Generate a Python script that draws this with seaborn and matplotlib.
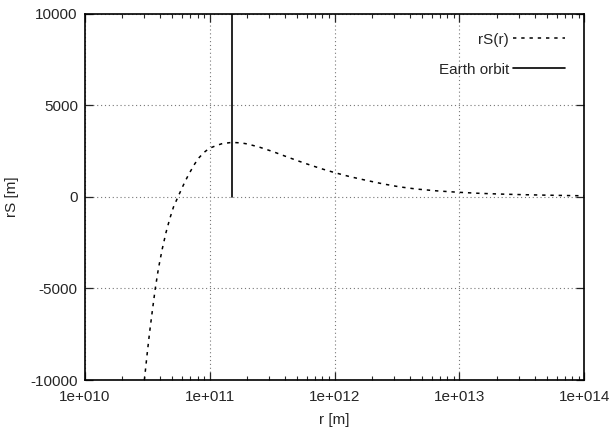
import numpy as np
import seaborn as sns
import matplotlib
matplotlib.use('Agg')
import matplotlib.pyplot as plt
from matplotlib.ticker import FixedLocator, LogLocator, FuncFormatter, NullFormatter


# values
r_values = [3.00e10, 3.16e10, 3.31e10, 3.47e10, 3.66e10, 3.89e10, 4.17e10,
            4.47e10, 4.79e10, 5.13e10, 5.58e10, 6.12e10, 6.46e10, 6.84e10,
            7.24e10, 7.60e10, 8.24e10, 8.97e10, 9.91e10, 1.135e11, 1.26e11,
            1.50e11, 1.78e11, 2.01e11, 2.52e11, 3.22e11, 4.00e11, 5.06e11,
            6.47e11, 8.11e11, 1.01e12, 1.32e12, 1.78e12, 2.45e12, 3.31e12,
            4.54e12, 6.61e12, 9.77e12, 1.41e13, 2.09e13, 3.16e13, 4.68e13,
            7.08e13, 1.0e14]
rS_values = [-10000, -8550, -7350, -6250, -5050, -3900, -2850,
             -1950, -1200, -560, 0, 600, 930, 1260,
             1550, 1800, 2140, 2410, 2640, 2800, 2900,
             2965, 2940, 2880, 2700, 2460, 2220, 1965,
             1715, 1500, 1310, 1100, 900, 700, 540,
             420, 320, 245, 190, 148, 115, 90,
             68, 52]

earth_r = [1.496e11, 1.496e11]
earth_rS = [0, 10000]

x_ticks = [1e10, 1e11, 1e12, 1e13, 1e14]
y_ticks = [-10000, -5000, 0, 5000, 10000]

sns.set_style('ticks')
plt.rcParams['font.family'] = ['Liberation Sans', 'DejaVu Sans']
plt.rcParams['font.size'] = 11
plt.rcParams['axes.unicode_minus'] = False

fig = plt.figure(figsize=(6.1, 4.33), dpi=100)
ax = fig.add_axes([0.139, 0.1224, 0.819, 0.8464])
ax.set_xscale('log')

sns.lineplot(x=r_values, y=rS_values, ax=ax, color='black', lw=1.1,
             linestyle=(0, (2.2, 3.2)), sort=False, estimator=None, label='rS(r)')
sns.lineplot(x=earth_r, y=earth_rS, ax=ax, color='black', lw=1.2,
             sort=False, estimator=None, label='Earth orbit')

ax.set_xlim(1e10, 1e14)
ax.set_ylim(-10000, 10000)
ax.xaxis.set_major_locator(FixedLocator(x_ticks))
ax.xaxis.set_minor_locator(LogLocator(base=10, subs=np.arange(2, 10)))
ax.xaxis.set_minor_formatter(NullFormatter())
ax.xaxis.set_major_formatter(FuncFormatter(lambda v, p: '1e+%03d' % int(round(np.log10(v)))))
ax.yaxis.set_major_locator(FixedLocator(y_ticks))

ax.tick_params(which='major', direction='in', top=True, right=True, length=6, width=0.9, labelsize=11)
ax.tick_params(axis='x', which='major', pad=7)
ax.tick_params(axis='y', which='major', pad=5)
ax.tick_params(which='minor', direction='in', top=True, right=True, length=3, width=0.8)
ax.grid(True, which='major', color='#777777', linestyle=(0, (1, 2.5)), linewidth=0.8)
for s in ax.spines.values():
    s.set_linewidth(1.2)
    s.set_color('black')

ax.set_xlabel('r [m]', fontsize=11, labelpad=7)
ax.set_ylabel('rS [m]', fontsize=11, labelpad=8)

leg = ax.legend(loc='upper right', frameon=False, markerfirst=False, handlelength=3.4,
                fontsize=11, borderaxespad=0.85, labelspacing=1.05, handletextpad=0.3)

fig.savefig('out.png', dpi=100, facecolor='white')
